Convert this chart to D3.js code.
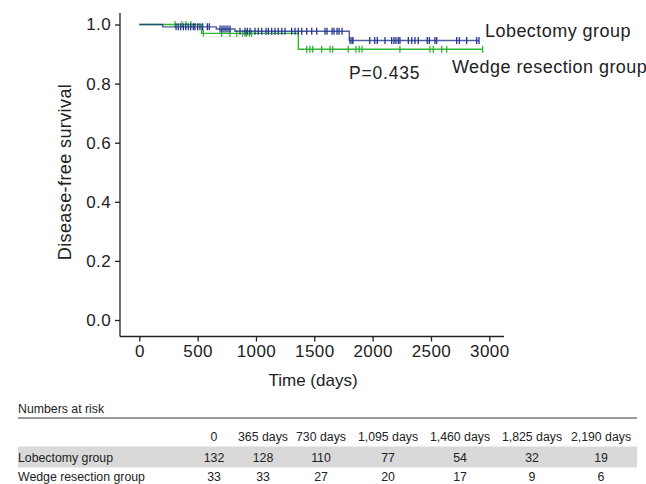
<!DOCTYPE html>
<html>
<head>
<meta charset="utf-8">
<script src="https://cdn.jsdelivr.net/npm/d3@7"></script>
<style>
  body { margin: 0; background: #fff; }
  svg { display: block; font-family: "Liberation Sans", Arial, sans-serif; }
</style>
</head>
<body>
<svg id="km" width="646" height="484"></svg>
<script>
// survival steps (day, survival after that day)
const lobStepDays = [0, 200, 660, 820, 1800];
const lobStepSurv = [1.0, 0.992, 0.985, 0.977, 0.946];
const lobEnd = 2912;
const wedgeStepDays = [0, 535, 1363];
const wedgeStepSurv = [1.0, 0.970, 0.916];
const wedgeEnd = 2943;

// censor marks
const lobCensor = [315, 334, 355, 378, 398, 420, 440, 463, 477, 500, 520, 543, 583, 600,
  692, 709, 726, 743, 760, 778, 863, 906, 926, 949, 992, 1020, 1049, 1086, 1106, 1135,
  1163, 1191, 1221, 1249, 1306, 1335, 1363, 1392, 1435, 1478, 1521, 1592, 1609, 1652,
  1669, 1695, 1712, 1738, 1806, 1823, 1832, 1975, 2018, 2040, 2106, 2163, 2183, 2200,
  2220, 2234, 2306, 2335, 2363, 2391, 2468, 2486, 2534, 2549, 2720, 2743, 2806, 2892, 2912];
const wedgeCensor = [306, 366, 400, 443, 549, 706, 777, 835, 886, 906, 920, 943, 963,
  1435, 1463, 1486, 1563, 1635, 1658, 1791, 1857, 1885, 1909, 2234, 2491, 2520, 2592, 2635, 2943];

const xTicks = [0, 500, 1000, 1500, 2000, 2500, 3000];
const yTicks = [0, 0.2, 0.4, 0.6, 0.8, 1.0];

// numbers at risk table
const riskHeader = ["0", "365 days", "730 days", "1,095 days", "1,460 days", "1,825 days", "2,190 days"];
const riskGroups = ["Lobectomy group", "Wedge resection group"];
const lobRisk = [132, 128, 110, 77, 54, 32, 19];
const wedgeRisk = [33, 33, 27, 20, 17, 9, 6];

const blue = "#24348f";
const green = "#2fb52f";
const ink = "#222";

const svg = d3.select("#km");

const x = d3.scaleLinear().domain([0, 3000]).range([139.3, 489.3]);
const y = d3.scaleLinear().domain([0, 1]).range([320, 24.5]);

const axisX = 120, axisY = 336.5;

// axes (L shaped, R style)
svg.append("line").attr("x1", axisX).attr("x2", axisX).attr("y1", 13).attr("y2", axisY)
  .attr("stroke", ink).attr("stroke-width", 1.3);
svg.append("line").attr("x1", axisX).attr("x2", 504).attr("y1", axisY).attr("y2", axisY)
  .attr("stroke", ink).attr("stroke-width", 1.3);

const styleAxis = (g) => {
  g.select(".domain").remove();
  g.selectAll("line").attr("stroke", ink).attr("stroke-width", 1.3);
  g.selectAll("text").attr("font-size", 17).attr("letter-spacing", 0.4).attr("fill", ink)
    .attr("font-family", "Liberation Sans, Arial, sans-serif");
};

svg.append("g")
  .attr("transform", `translate(0,${axisY})`)
  .call(d3.axisBottom(x).tickValues(xTicks).tickSize(5).tickPadding(3).tickFormat(d3.format("d")))
  .call(styleAxis);

svg.append("g")
  .attr("transform", `translate(${axisX},0)`)
  .call(d3.axisLeft(y).tickValues(yTicks).tickSize(5).tickPadding(4).tickFormat(d3.format(".1f")))
  .call(styleAxis);

svg.append("text")
  .attr("x", 313).attr("y", 386)
  .attr("text-anchor", "middle").attr("font-size", 17).attr("fill", ink)
  .text("Time (days)");

svg.append("text")
  .attr("transform", "translate(71,172) rotate(-90)")
  .attr("text-anchor", "middle").attr("font-size", 18).attr("letter-spacing", 0.4).attr("fill", ink)
  .text("Disease-free survival");

// km curves
const stepPoints = (days, surv, end) => {
  const pts = days.map((d, i) => [d, surv[i]]);
  pts.push([end, surv[surv.length - 1]]);
  return pts;
};
const survAt = (days, surv, t) => surv[d3.bisectRight(days, t) - 1];

const line = d3.line().x((d) => x(d[0])).y((d) => y(d[1])).curve(d3.curveStepAfter);

const groups = [
  { days: wedgeStepDays, surv: wedgeStepSurv, end: wedgeEnd, censor: wedgeCensor, color: green, op: 1 },
  { days: lobStepDays, surv: lobStepSurv, end: lobEnd, censor: lobCensor, color: blue, op: 0.8 },
];

groups.forEach((g) => {
  svg.append("path")
    .datum(stepPoints(g.days, g.surv, g.end))
    .attr("fill", "none")
    .attr("stroke", g.color)
    .attr("stroke-width", 1.4)
    .attr("stroke-opacity", g.op)
    .attr("d", line);

  svg.append("g")
    .selectAll("line")
    .data(g.censor)
    .join("line")
    .attr("x1", (d) => x(d)).attr("x2", (d) => x(d))
    .attr("y1", (d) => y(survAt(g.days, g.surv, d)) - 3.5)
    .attr("y2", (d) => y(survAt(g.days, g.surv, d)) + 3.5)
    .attr("stroke", g.color)
    .attr("stroke-width", 1.3);
});

// legend labels and p value
svg.append("text").attr("x", 485).attr("y", 37).attr("font-size", 18).attr("letter-spacing", 0.45)
  .attr("fill", ink).text("Lobectomy group");
svg.append("text").attr("x", 452).attr("y", 73).attr("font-size", 18).attr("letter-spacing", 0.45)
  .attr("fill", ink).text("Wedge resection group");
svg.append("text").attr("x", 349).attr("y", 79).attr("font-size", 17.5).attr("letter-spacing", 0.8)
  .attr("fill", ink).text("P=0.435");

// numbers at risk table
const colX = [214, 263, 321, 388, 460, 532, 601];
const tFont = 12.3;
const tLeft = 18, tRight = 637;

svg.append("text").attr("x", tLeft).attr("y", 412.5).attr("font-size", tFont).attr("fill", ink)
  .text("Numbers at risk");
svg.append("line").attr("x1", tLeft).attr("x2", tRight).attr("y1", 418).attr("y2", 418)
  .attr("stroke", "#333").attr("stroke-width", 1);
svg.append("rect").attr("x", tLeft).attr("y", 446.5).attr("width", tRight - tLeft).attr("height", 21)
  .attr("fill", "#d9d9d9");

svg.append("g").selectAll("text")
  .data(riskHeader)
  .join("text")
  .attr("x", (d, i) => colX[i]).attr("y", 440.5)
  .attr("text-anchor", "middle").attr("font-size", tFont).attr("fill", ink)
  .text((d) => d);

[lobRisk, wedgeRisk].forEach((row, r) => {
  const yy = r === 0 ? 461.5 : 480.5;
  svg.append("text").attr("x", tLeft).attr("y", yy).attr("font-size", tFont).attr("fill", ink)
    .text(riskGroups[r]);
  svg.append("g").selectAll("text")
    .data(row)
    .join("text")
    .attr("x", (d, i) => colX[i]).attr("y", yy)
    .attr("text-anchor", "middle").attr("font-size", tFont).attr("fill", ink)
    .text((d) => d);
});
</script>
</body>
</html>
